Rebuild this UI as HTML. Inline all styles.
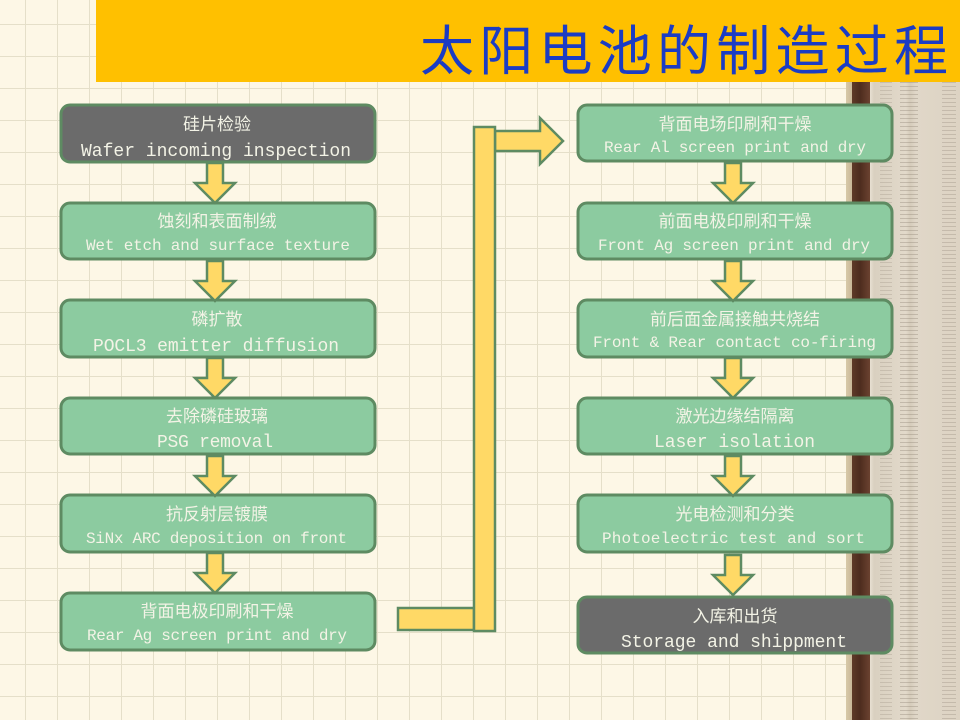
<!DOCTYPE html>
<html><head><meta charset="utf-8"><style>
html,body{margin:0;padding:0}
body{width:960px;height:720px;overflow:hidden;position:relative;background-color:#fdf7e6;
background-image:linear-gradient(to right,#e5dfc9 1px,transparent 1px),linear-gradient(to bottom,#e5dfc9 1px,transparent 1px);
background-size:32px 32px;background-position:25px 24px;}
.ruler{position:absolute;left:846px;top:82px;width:114px;height:638px;
background:linear-gradient(to right,#d8c9a8 0,#c9b898 6px,#5e3a28 6px,#4d2c1e 14px,#6b4230 24px,#e8e0d2 24px,#d9d0c0 28px,#e2d9ca 60px,#d6ccbb 64px,#e0d7c8 70px,#ddd3c3 114px);}
.t1{position:absolute;left:900px;top:82px;width:18px;height:638px;background:repeating-linear-gradient(to bottom,#8a7e70 0,#8a7e70 1px,transparent 1px,transparent 4px);opacity:.35}
.t2{position:absolute;left:880px;top:82px;width:12px;height:638px;background:repeating-linear-gradient(to bottom,#8a7e70 0,#8a7e70 1px,transparent 1px,transparent 4px);opacity:.25}
.t3{position:absolute;left:942px;top:82px;width:14px;height:638px;background:repeating-linear-gradient(to bottom,#8a7e70 0,#8a7e70 1px,transparent 1px,transparent 4px);opacity:.3}
svg{position:absolute;left:0;top:0}
.cn{font-family:"Liberation Sans","Noto Sans CJK SC",sans-serif;font-size:17px;fill:#f3f3e6;text-anchor:middle}
.en{font-family:"Liberation Mono","Noto Sans CJK SC",monospace;font-size:16px;fill:#f3f3e6}
</style></head><body>
<div class="ruler"></div><div class="t2"></div><div class="t1"></div><div class="t3"></div>
<svg width="960" height="720" viewBox="0 0 960 720">
<rect x="96" y="0" width="864" height="82" fill="#ffc000"/>
<text x="948" y="70" text-anchor="end" font-family="Liberation Sans,'Noto Sans CJK SC',sans-serif" font-size="54" fill="#1b3cc4" textLength="528" lengthAdjust="spacing">太阳电池的制造过程</text>
<g stroke="#5e8b62" stroke-width="3">
<rect x="61" y="105" width="314" height="57" rx="9" fill="#6b6b6b"/>
<rect x="61" y="203" width="314" height="56" rx="9" fill="#8ccba0"/>
<rect x="61" y="300" width="314" height="57" rx="9" fill="#8ccba0"/>
<rect x="61" y="398" width="314" height="56" rx="9" fill="#8ccba0"/>
<rect x="61" y="495" width="314" height="57" rx="9" fill="#8ccba0"/>
<rect x="61" y="593" width="314" height="57" rx="9" fill="#8ccba0"/>
<rect x="578" y="105" width="314" height="56" rx="9" fill="#8ccba0"/>
<rect x="578" y="203" width="314" height="56" rx="9" fill="#8ccba0"/>
<rect x="578" y="300" width="314" height="57" rx="9" fill="#8ccba0"/>
<rect x="578" y="398" width="314" height="56" rx="9" fill="#8ccba0"/>
<rect x="578" y="495" width="314" height="57" rx="9" fill="#8ccba0"/>
<rect x="578" y="597" width="314" height="56" rx="9" fill="#6b6b6b"/>
</g>
<g fill="#ffd966" stroke="#5e8b62" stroke-width="2.5" stroke-linejoin="miter">
<path id="da" d="M207 163 h16 v20 h12 l-20 20 l-20 -20 h12 z"/>
<use href="#da" y="98"/><use href="#da" y="195"/><use href="#da" y="293"/><use href="#da" y="390"/>
<use href="#da" x="518" y="0"/><use href="#da" x="518" y="98"/><use href="#da" x="518" y="195"/><use href="#da" x="518" y="293"/><use href="#da" x="518" y="392"/>
<rect x="398" y="608" width="76" height="22"/>
<path d="M495 131 h45 v-13 l23 23 l-23 23 v-13 h-45 z"/>
<rect x="474" y="127" width="21" height="504"/>
</g>
<g class="cn">
<text x="217" y="130">硅片检验</text>
<text x="217" y="227">蚀刻和表面制绒</text>
<text x="217" y="325">磷扩散</text>
<text x="217" y="422">去除磷硅玻璃</text>
<text x="217" y="520">抗反射层镀膜</text>
<text x="217" y="617">背面电极印刷和干燥</text>
<text x="735" y="130">背面电场印刷和干燥</text>
<text x="735" y="227">前面电极印刷和干燥</text>
<text x="735" y="325">前后面金属接触共烧结</text>
<text x="735" y="422">激光边缘结隔离</text>
<text x="735" y="520">光电检测和分类</text>
<text x="735" y="622">入库和出货</text>
</g>
<g class="en">
<text x="81" y="156" font-size="18" textLength="270">Wafer incoming inspection</text>
<text x="86" y="250" textLength="264">Wet etch and surface texture</text>
<text x="93" y="351" font-size="18" textLength="246">POCL3 emitter diffusion</text>
<text x="157" y="447" font-size="18" textLength="116">PSG removal</text>
<text x="86" y="543" textLength="261">SiNx ARC deposition on front</text>
<text x="87" y="640" textLength="260">Rear Ag screen print and dry</text>
<text x="604" y="152" textLength="262">Rear Al screen print and dry</text>
<text x="598" y="250" textLength="272">Front Ag screen print and dry</text>
<text x="593" y="347" textLength="283">Front &amp; Rear contact co-firing</text>
<text x="654" y="447" font-size="18" textLength="161">Laser isolation</text>
<text x="602" y="543" textLength="263">Photoelectric  test and sort</text>
<text x="621" y="647" font-size="18" textLength="226">Storage and shippment</text>
</g>
</svg>
</body></html>
